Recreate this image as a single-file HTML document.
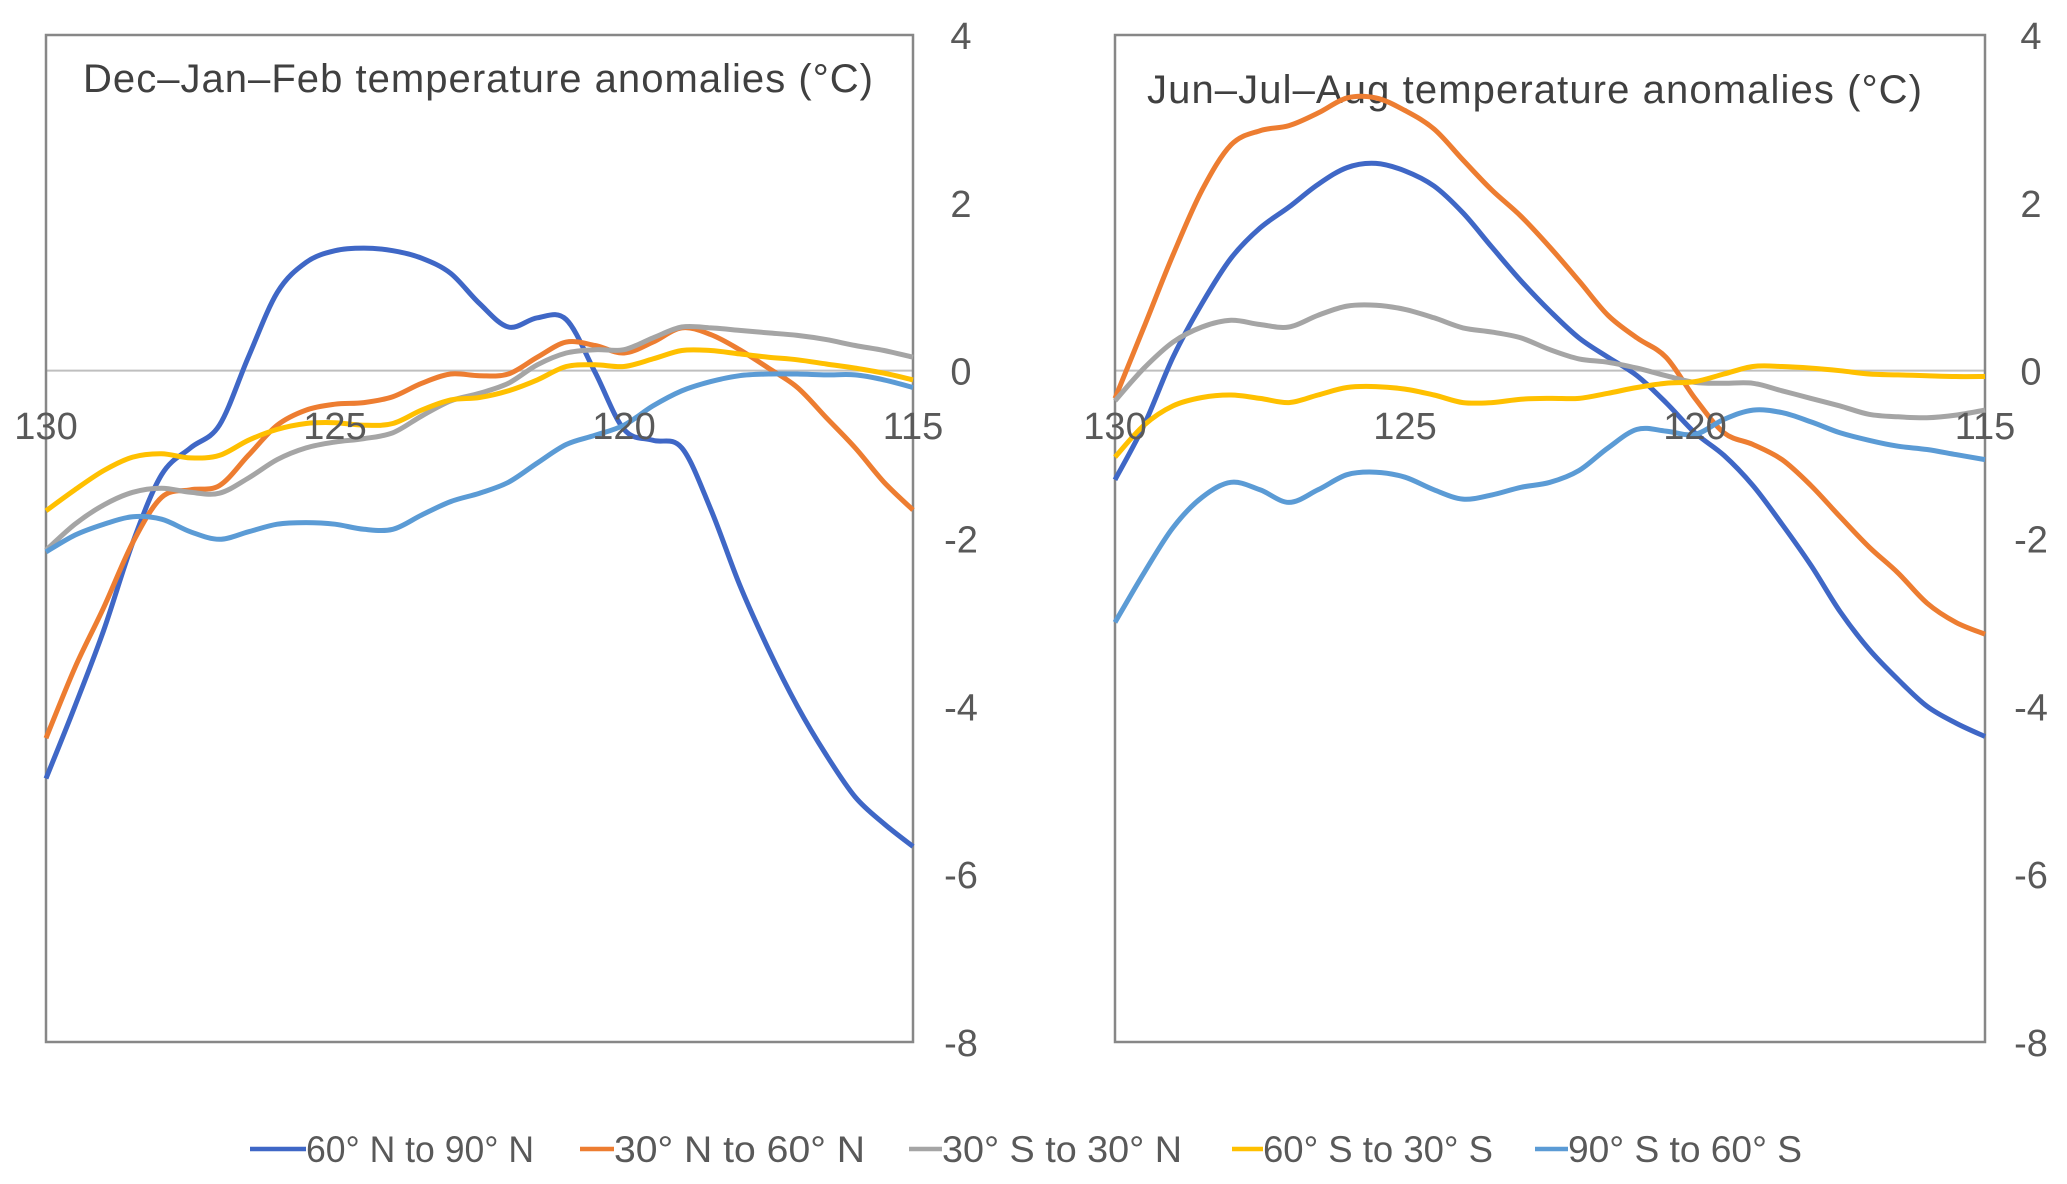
<!DOCTYPE html>
<html><head><meta charset="utf-8"><style>
html,body{margin:0;padding:0;background:#fff;}
svg{display:block;font-family:"Liberation Sans",sans-serif;}
</style></head><body>
<svg id="chart" width="2067" height="1184" viewBox="0 0 2067 1184"></svg>
<script>
const xValues = [130,129.5,129,128.5,128,127.5,127,126.5,126,125.5,125,124.5,124,123.5,123,122.5,122,121.5,121,120.5,120,119.5,119,118.5,118,117.5,117,116.5,116,115.5,115];
const xTicks = [130,125,120,115];
const yTicks = [4,2,0,-2,-4,-6,-8];
const seriesNames = ["60° N to 90° N","30° N to 60° N","30° S to 30° N","60° S to 30° S","90° S to 60° S"];
const seriesColors = ["#3F67C6","#ED7D31","#A5A5A5","#FFC000","#5B9BD5"];
const djfN90 = [-4.86,-4.0,-3.09,-2.05,-1.24,-0.92,-0.65,0.16,0.93,1.29,1.43,1.46,1.43,1.34,1.16,0.8,0.52,0.63,0.61,-0.02,-0.7,-0.83,-0.92,-1.65,-2.55,-3.32,-4.0,-4.58,-5.08,-5.4,-5.67];
const djfN60 = [-4.38,-3.54,-2.82,-2.05,-1.51,-1.42,-1.37,-1.01,-0.65,-0.47,-0.4,-0.38,-0.31,-0.15,-0.04,-0.06,-0.04,0.16,0.34,0.3,0.21,0.34,0.51,0.43,0.25,0.03,-0.2,-0.56,-0.92,-1.33,-1.66];
const djfTrop = [-2.14,-1.83,-1.6,-1.45,-1.4,-1.45,-1.46,-1.28,-1.06,-0.92,-0.85,-0.81,-0.74,-0.54,-0.36,-0.27,-0.15,0.07,0.21,0.25,0.25,0.39,0.52,0.51,0.48,0.45,0.42,0.37,0.3,0.24,0.16];
const djfS30 = [-1.67,-1.42,-1.19,-1.03,-0.99,-1.04,-1.01,-0.83,-0.7,-0.63,-0.62,-0.65,-0.63,-0.47,-0.35,-0.32,-0.24,-0.11,0.05,0.07,0.05,0.14,0.24,0.24,0.2,0.16,0.13,0.08,0.03,-0.03,-0.11];
const djfS60 = [-2.16,-1.96,-1.83,-1.74,-1.77,-1.92,-2.01,-1.92,-1.83,-1.81,-1.83,-1.89,-1.89,-1.72,-1.56,-1.46,-1.33,-1.1,-0.88,-0.77,-0.65,-0.42,-0.24,-0.13,-0.06,-0.04,-0.04,-0.05,-0.05,-0.11,-0.2];
const jjaN90 = [-1.3,-0.65,0.16,0.8,1.34,1.7,1.95,2.22,2.42,2.47,2.38,2.2,1.88,1.47,1.07,0.71,0.39,0.16,-0.06,-0.38,-0.74,-1.01,-1.37,-1.83,-2.32,-2.87,-3.32,-3.68,-4.0,-4.2,-4.36];
const jjaN60 = [-0.33,0.52,1.38,2.15,2.69,2.86,2.92,3.07,3.25,3.25,3.1,2.88,2.51,2.15,1.84,1.47,1.07,0.66,0.39,0.16,-0.33,-0.74,-0.88,-1.06,-1.37,-1.74,-2.1,-2.41,-2.77,-3.0,-3.14];
const jjaTrop = [-0.36,0.03,0.34,0.52,0.6,0.55,0.52,0.66,0.77,0.78,0.73,0.63,0.51,0.46,0.39,0.25,0.14,0.1,0.03,-0.06,-0.14,-0.15,-0.15,-0.24,-0.33,-0.42,-0.52,-0.55,-0.56,-0.53,-0.47];
const jjaS30 = [-1.03,-0.65,-0.42,-0.32,-0.29,-0.33,-0.38,-0.29,-0.2,-0.19,-0.22,-0.29,-0.38,-0.38,-0.34,-0.33,-0.33,-0.27,-0.2,-0.15,-0.13,-0.04,0.05,0.05,0.03,0,-0.04,-0.05,-0.06,-0.07,-0.07];
const jjaS60 = [-3.0,-2.41,-1.87,-1.51,-1.33,-1.42,-1.57,-1.42,-1.24,-1.21,-1.27,-1.42,-1.53,-1.48,-1.39,-1.33,-1.19,-0.92,-0.7,-0.72,-0.76,-0.58,-0.47,-0.5,-0.61,-0.74,-0.83,-0.9,-0.94,-1.0,-1.06];

const NS="http://www.w3.org/2000/svg";
const svg=document.getElementById('chart');
function mk(tag,attrs,parent){const e=document.createElementNS(NS,tag);for(const k in attrs)e.setAttribute(k,attrs[k]);(parent||svg).appendChild(e);return e;}
const TOP=35,BOT=1042;
function yScale(v){return TOP+(4-v)/12*(BOT-TOP);}
function smoothPath(pts){let d="M"+pts[0][0].toFixed(1)+","+pts[0][1].toFixed(1);
 for(let i=0;i<pts.length-1;i++){const p0=pts[i-1]||pts[i],p1=pts[i],p2=pts[i+1],p3=pts[i+2]||p2;
 const c1=[p1[0]+(p2[0]-p0[0])/6,p1[1]+(p2[1]-p0[1])/6],c2=[p2[0]-(p3[0]-p1[0])/6,p2[1]-(p3[1]-p1[1])/6];
 d+=" C"+c1[0].toFixed(1)+","+c1[1].toFixed(1)+" "+c2[0].toFixed(1)+","+c2[1].toFixed(1)+" "+p2[0].toFixed(1)+","+p2[1].toFixed(1);}return d;}

function panel(key,L,R,title,titleX,titleY,titleW,labelX,series){
 const g=mk('g',{});
 
 
 const xScale=v=>L+(130-v)/15*(R-L);
 const zl=mk('line',{x1:L,x2:R,y1:yScale(0),y2:yScale(0),stroke:'#BFBFBF','stroke-width':2},g);
 
 
 const fr=mk('rect',{x:L,y:TOP,width:R-L,height:BOT-TOP,fill:'none',stroke:'#878787','stroke-width':2.5},g);
 
 
 const t=mk('text',{x:titleX,y:titleY,'font-size':40,fill:'#404040',textLength:titleW,lengthAdjust:'spacing'},g);
 t.textContent=title;
 
 
 series.forEach((vals,i)=>{
  const pts=vals.map((v,j)=>[xScale(xValues[j]),yScale(v)]);
  const p=mk('path',{d:smoothPath(pts),fill:'none',stroke:seriesColors[i],'stroke-width':5,'stroke-linejoin':'round'},g);
  
  
 });
 xTicks.forEach(v=>{
  const tx=mk('text',{x:xScale(v),y:439,'font-size':38,fill:'#595959','text-anchor':'middle'},g);
  tx.textContent=v;
  
  
 });
 yTicks.forEach(v=>{
  const ty=mk('text',{x:labelX,y:yScale(v)+14,'font-size':38,fill:'#595959','text-anchor':'middle'},g);
  ty.textContent=v;
  
  
 });
}
panel('djf',46,913,'Dec\u2013Jan\u2013Feb temperature anomalies (°C)',83,92,790,961,[djfN90,djfN60,djfTrop,djfS30,djfS60]);
panel('jja',1115,1985,'Jun\u2013Jul\u2013Aug temperature anomalies (°C)',1147,103,775,2031,[jjaN90,jjaN60,jjaTrop,jjaS30,jjaS60]);

const legX=[[250,306,534],[580,614,865],[909,942,1182],[1232,1263,1493],[1535,1568,1802]];
const lg=mk('g',{});


seriesNames.forEach((n,i)=>{
 const [a,b,c]=legX[i];
 const e=mk('g',{},lg);
 
 
 mk('line',{x1:a,x2:b,y1:1149,y2:1149,stroke:seriesColors[i],'stroke-width':4.5},e);
 const tt=mk('text',{x:b,y:1162,'font-size':37,fill:'#595959',textLength:c-b,lengthAdjust:'spacingAndGlyphs'},e);
 tt.textContent=n;
});
</script>
</body></html>
